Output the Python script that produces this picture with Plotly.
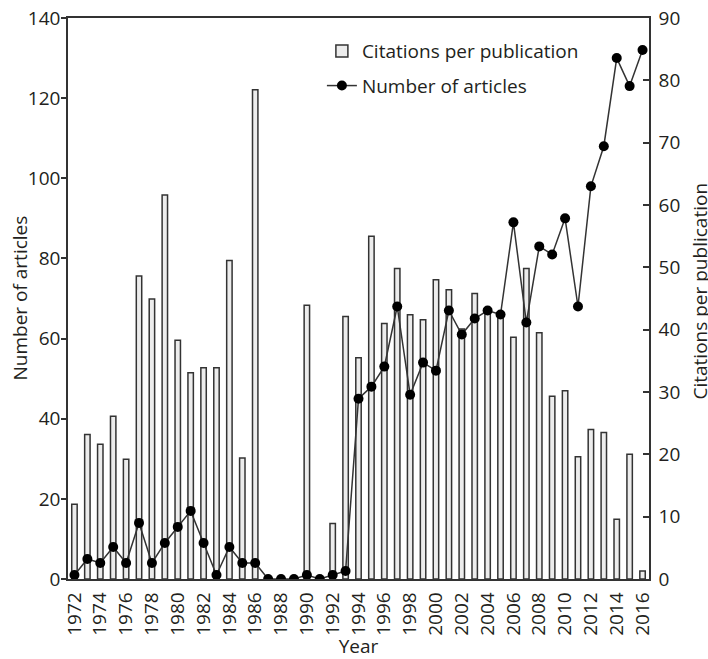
import plotly.graph_objects as go

years = list(range(1972, 2017))

# Citations per publication (right axis, 0-90)
citations_per_publication = [
    12.0, 23.2, 21.6, 26.1, 19.2, 48.6, 44.9, 61.6, 38.3, 33.1,
    33.9, 33.9, 51.1, 19.4, 78.5, 0, 0, 0, 43.9, 0,
    8.9, 42.1, 35.5, 55.0, 41.0, 49.8, 42.4, 41.6, 48.0, 46.4,
    40.1, 45.8, 42.8, 42.1, 38.8, 49.8, 39.5, 29.3, 30.2, 19.6,
    24.0, 23.5, 9.6, 20.0, 1.3,
]

# Number of articles (left axis, 0-140)
number_of_articles = [
    1, 5, 4, 8, 4, 14, 4, 9, 13, 17,
    9, 1, 8, 4, 4, 0, 0, 0, 1, 0,
    1, 2, 45, 48, 53, 68, 46, 54, 52, 67,
    61, 65, 67, 66, 89, 64, 83, 81, 90, 68,
    98, 108, 130, 123, 132,
]

tick_years = [y for y in years if y % 2 == 0]
tick_text = [str(y) for y in tick_years]

FONT = "Open Sans"
AX = "#333333"
TXT = "#231f20"
FS = 19

fig = go.Figure()
fig.add_trace(go.Bar(
    x=years, y=citations_per_publication,
    name="Citations per publication", yaxis="y",
    width=0.42, legendgroup="a",
    marker=dict(color="#ececec", line=dict(color="#333333", width=1.5)),
))
fig.add_trace(go.Scatter(
    x=years, y=number_of_articles,
    name="Number of articles", yaxis="y2", legendgroup="b",
    mode="lines+markers",
    line=dict(color="#333333", width=1.5),
    marker=dict(color="#000000", size=10),
))

fig.update_layout(
    width=708, height=659,
    margin=dict(l=68, r=59, t=18, b=80, autoexpand=False),
    paper_bgcolor="white", plot_bgcolor="white",
    font=dict(family=FONT, size=FS, color=TXT),
    showlegend=True,
    legend=dict(x=0.437, y=0.975, xanchor="left", yanchor="top",
                bgcolor="rgba(0,0,0,0)", traceorder="grouped",
                tracegroupgap=7, font=dict(size=FS)),
    xaxis=dict(
        range=[1971.5, 2016.5], tickmode="array",
        tickvals=tick_years, ticktext=tick_text, tickangle=-90,
        showline=True, linecolor=AX, linewidth=1.5, mirror=True,
        ticks="", showgrid=False, zeroline=False,
        ticklabelstandoff=4,
        title=dict(text="Year", standoff=11, font=dict(size=FS)),
    ),
    yaxis=dict(
        side="right", range=[0, 90], dtick=10,
        showline=True, linecolor=AX, linewidth=1.5,
        ticks="inside", ticklen=6, tickcolor=AX, tickwidth=1.5,
        ticklabelstandoff=4,
        showgrid=False, zeroline=False,
    ),
    yaxis2=dict(
        overlaying="y", side="left", range=[0, 140], dtick=20,
        showline=True, linecolor=AX, linewidth=1.5,
        ticks="outside", ticklen=5, tickcolor=AX, tickwidth=1.5,
        ticklabelstandoff=-3,
        showgrid=False, zeroline=False,
    ),
    annotations=[
        dict(
            text="Number of articles", xref="paper", yref="paper",
            x=0, y=0.5, xanchor="center", yanchor="middle",
            xshift=-49, textangle=-90, showarrow=False,
            font=dict(size=FS, family=FONT, color=TXT),
        ),
        dict(
            text="Citations per publication", xref="paper", yref="paper",
            x=1, y=0.5, xanchor="center", yanchor="middle",
            xshift=50, yshift=7, textangle=-90, showarrow=False,
            font=dict(size=FS, family=FONT, color=TXT),
        ),
    ],
)

fig.write_html(
    "out.html",
    config={"displayModeBar": False},
    post_script="document.body.style.margin='0';document.body.style.overflow='hidden';",
)
